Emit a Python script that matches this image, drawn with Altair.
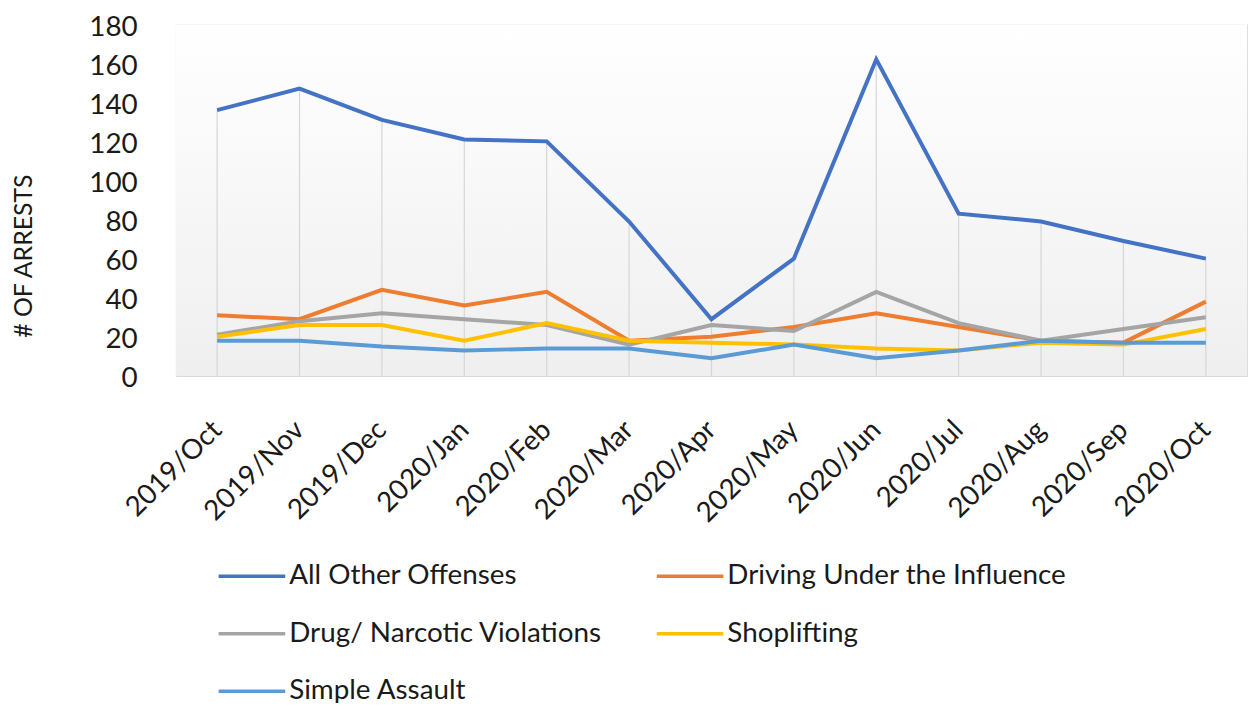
import altair as alt
import pandas as pd

months = ["2019/Oct", "2019/Nov", "2019/Dec", "2020/Jan", "2020/Feb", "2020/Mar",
          "2020/Apr", "2020/May", "2020/Jun", "2020/Jul", "2020/Aug", "2020/Sep", "2020/Oct"]
series_names = ["All Other Offenses", "Driving Under the Influence",
                "Drug/ Narcotic Violations", "Shoplifting", "Simple Assault"]
all_other = [136, 147, 131, 121, 120, 79, 29, 60, 162, 83, 79, 69, 60]
dui = [31, 29, 44, 36, 43, 18, 20, 25, 32, 25, 18, 17, 38]
drug = [21, 28, 32, 29, 26, 16, 26, 23, 43, 27, 18, 24, 30]
shoplifting = [20, 26, 26, 18, 27, 18, 17, 16, 14, 13, 17, 16, 24]
simple_assault = [18, 18, 15, 13, 14, 14, 9, 16, 9, 13, 18, 17, 17]
colors = ["#4472C4", "#ED7D31", "#A5A5A5", "#FFC000", "#5B9BD5"]
y_ticks = [0, 20, 40, 60, 80, 100, 120, 140, 160, 180]

series_values = [all_other, dui, drug, shoplifting, simple_assault]
rows = []
for name, vals in zip(series_names, series_values):
    for i, (m, v) in enumerate(zip(months, vals)):
        rows.append({"idx": i, "month": m, "series": name, "value": v})
df = pd.DataFrame(rows)

W, H = 1078, 354
FONT = "Lato"
TXT = "#1a1a1a"

label_expr = "[" + ",".join("'" + m + "'" for m in months) + "][datum.value]"

x_enc = alt.X("idx:Q",
              scale=alt.Scale(domain=[-0.5, len(months) - 0.5], nice=False, zero=False),
              axis=alt.Axis(title=None, values=list(range(len(months))), labelExpr=label_expr,
                            labelAngle=-45, labelAlign="right",
                            labelBaseline="middle", labelFontSize=28, labelFont=FONT,
                            labelColor=TXT, labelPadding=50, ticks=False, grid=False,
                            labelOverlap=False, labelBound=False, labelFlush=False,
                            domain=True, domainColor="#d9d9d9", domainWidth=1.5))

y_scale = alt.Scale(domain=[0, 180], nice=False)
y_axis = alt.Axis(title="# OF ARRESTS", values=y_ticks, labelFontSize=28,
                  labelFont=FONT, labelColor=TXT, labelPadding=39, labelOffset=3,
                  labelOverlap=False, labelBound=False, labelFlush=False,
                  domain=False, ticks=False, grid=False,
                  titleFont=FONT, titleFontSize=25, titleFontWeight="normal",
                  titleColor=TXT, titleX=-153, titleY=233,
                  titleAlign="center", titleBaseline="middle", titleAngle=-90)

bg = alt.Chart(pd.DataFrame({"a": [0]})).mark_rect(
    color=alt.Gradient(gradient="linear",
                       stops=[alt.GradientStop(color="#ffffff", offset=0),
                              alt.GradientStop(color="#efefef", offset=1)],
                       x1=0, x2=0, y1=0, y2=1)
).encode(x=alt.value(0), x2=alt.value(W), y=alt.value(0), y2=alt.value(H))

base = alt.Chart(df)

drops = base.mark_rule(color="#d6d6d6", strokeWidth=1.2).encode(
    x=x_enc,
    y=alt.Y("max(value):Q", scale=y_scale, axis=y_axis),
    y2=alt.value(H),
)

lines = base.mark_line(strokeWidth=4).encode(
    x=x_enc,
    y=alt.Y("value:Q", scale=y_scale, axis=y_axis),
    color=alt.Color("series:N", sort=series_names,
                    scale=alt.Scale(domain=series_names, range=colors),
                    legend=alt.Legend(title=None, orient="none", legendX=41, legendY=520,
                                      direction="horizontal",
                                      columns=2, symbolType="stroke", symbolSize=4489,
                                      symbolStrokeWidth=3.5, labelFontSize=28,
                                      labelFont=FONT, labelColor=TXT, labelOffset=2,
                                      labelLimit=1000,
                                      columnPadding=48, rowPadding=8, padding=0)),
)

chart = alt.layer(bg, drops, lines).properties(
    width=W, height=H,
    padding={"left": 169, "top": 14, "right": 5, "bottom": 327},
    autosize="none",
).configure_view(stroke=None).configure(background="#ffffff")

chart.save("out.html", embed_options={"renderer": "svg", "actions": False})
